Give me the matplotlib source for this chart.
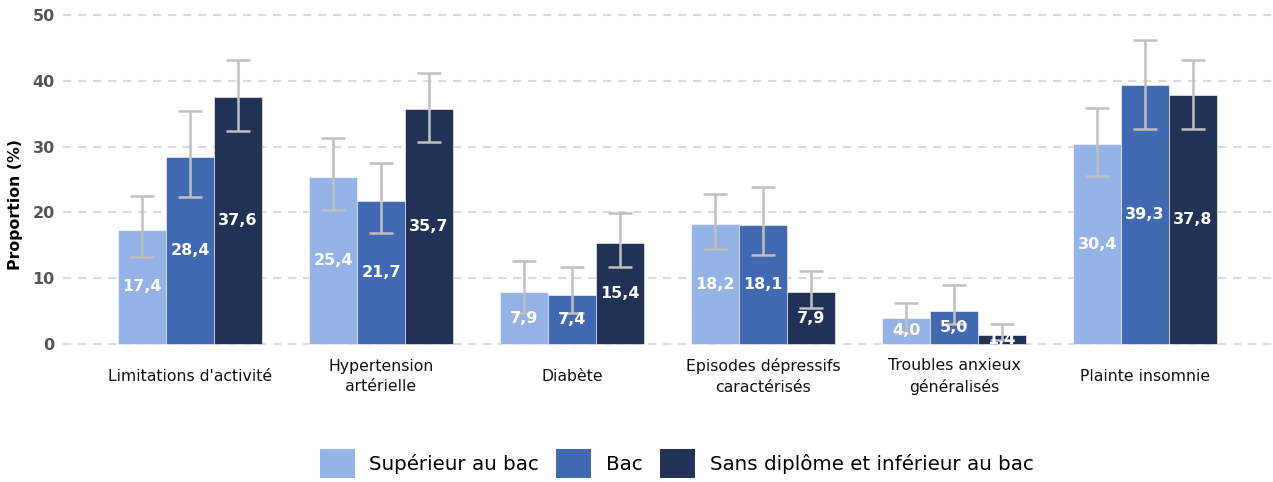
import matplotlib
matplotlib.use("Agg")
from matplotlib import pyplot as plt
from matplotlib.patches import Patch
import numpy as np

plt.rcParams['font.family'] = ['DejaVu Sans']

# prevalence by education level, with 95% CI bounds
categories = ["Limitations d'activité", "Hypertension\nartérielle", "Diabète",
              "Episodes dépressifs\ncaractérisés", "Troubles anxieux\ngénéralisés",
              "Plainte insomnie"]
groups = ["Supérieur au bac", "Bac", "Sans diplôme et inférieur au bac"]

sup_bac = [17.4, 25.4, 7.9, 18.2, 4.0, 30.4]
bac = [28.4, 21.7, 7.4, 18.1, 5.0, 39.3]
sans_dipl = [37.6, 35.7, 15.4, 7.9, 1.4, 37.8]

sup_bac_low = [13.2, 20.4, 4.8, 14.4, 1.7, 25.5]
sup_bac_high = [22.5, 31.3, 12.6, 22.8, 6.3, 35.9]
bac_low = [22.3, 16.9, 4.7, 13.5, 3.0, 32.7]
bac_high = [35.4, 27.5, 11.7, 23.9, 9.0, 46.2]
sans_dipl_low = [32.4, 30.7, 11.7, 5.5, 0.6, 32.7]
sans_dipl_high = [43.1, 41.2, 19.9, 11.1, 3.0, 43.2]

colors = ["#95b3e7", "#4169b1", "#213256"]

series = [(sup_bac, sup_bac_low, sup_bac_high),
          (bac, bac_low, bac_high),
          (sans_dipl, sans_dipl_low, sans_dipl_high)]

fig = plt.figure(figsize=(12.73, 4.82), dpi=100)
ax = fig.add_axes([0.0495, 0.282, 0.9505, 0.691])

x = np.arange(len(categories))
w = 0.25

for i, (vals, lo, hi) in enumerate(series):
    pos = x + (i - 1) * w
    vals = np.array(vals)
    ax.bar(pos, vals, w, color=colors[i], edgecolor="#ffffff", linewidth=0.4, zorder=2)
    err = [vals - np.array(lo), np.array(hi) - vals]
    ax.errorbar(pos, vals, yerr=err, fmt="none", ecolor="#c0c0c0", elinewidth=1.8,
                capsize=8.6, capthick=1.8, zorder=3)
    for p, v in zip(pos, vals):
        ax.text(p, v / 2, f"{v:.1f}".replace(".", ","), ha="center", va="center",
                color="white", fontsize=11.5, fontweight="bold", zorder=4)

ax.set_xlim(-0.665, 5.67)
ax.set_ylim(-0.3, 50.3)
ax.set_yticks([0, 10, 20, 30, 40, 50])
ax.set_xticks(x)
ax.set_xticklabels(categories, fontsize=11.3, color="#111111", linespacing=1.45)
ax.tick_params(axis="x", length=0, pad=22)
for t in ax.get_xticklabels():
    t.set_va("center")
ax.tick_params(axis="y", length=0, pad=6, labelsize=11.5, labelcolor="#555555")
for t in ax.get_yticklabels():
    t.set_fontweight("bold")

ax.yaxis.grid(True, color="#dadada", linewidth=1.5, linestyle=(0, (4.0, 3.2)), zorder=0)
ax.set_axisbelow(True)
for s in ax.spines.values():
    s.set_visible(False)

ax.set_ylabel("Proportion (%)", fontsize=11.3, fontweight="bold", color="black")
ax.yaxis.set_label_coords(-0.033, 0.426)

handles = [Patch(facecolor=c, edgecolor="none") for c in colors]
ax.legend(handles, groups, loc="upper center", bbox_to_anchor=(0.507, -0.255),
          ncol=3, frameon=False, fontsize=14.3, handlelength=1.76, handleheight=1.86,
          handletextpad=0.75, columnspacing=0.85)

fig.savefig("out.png", dpi=100)
